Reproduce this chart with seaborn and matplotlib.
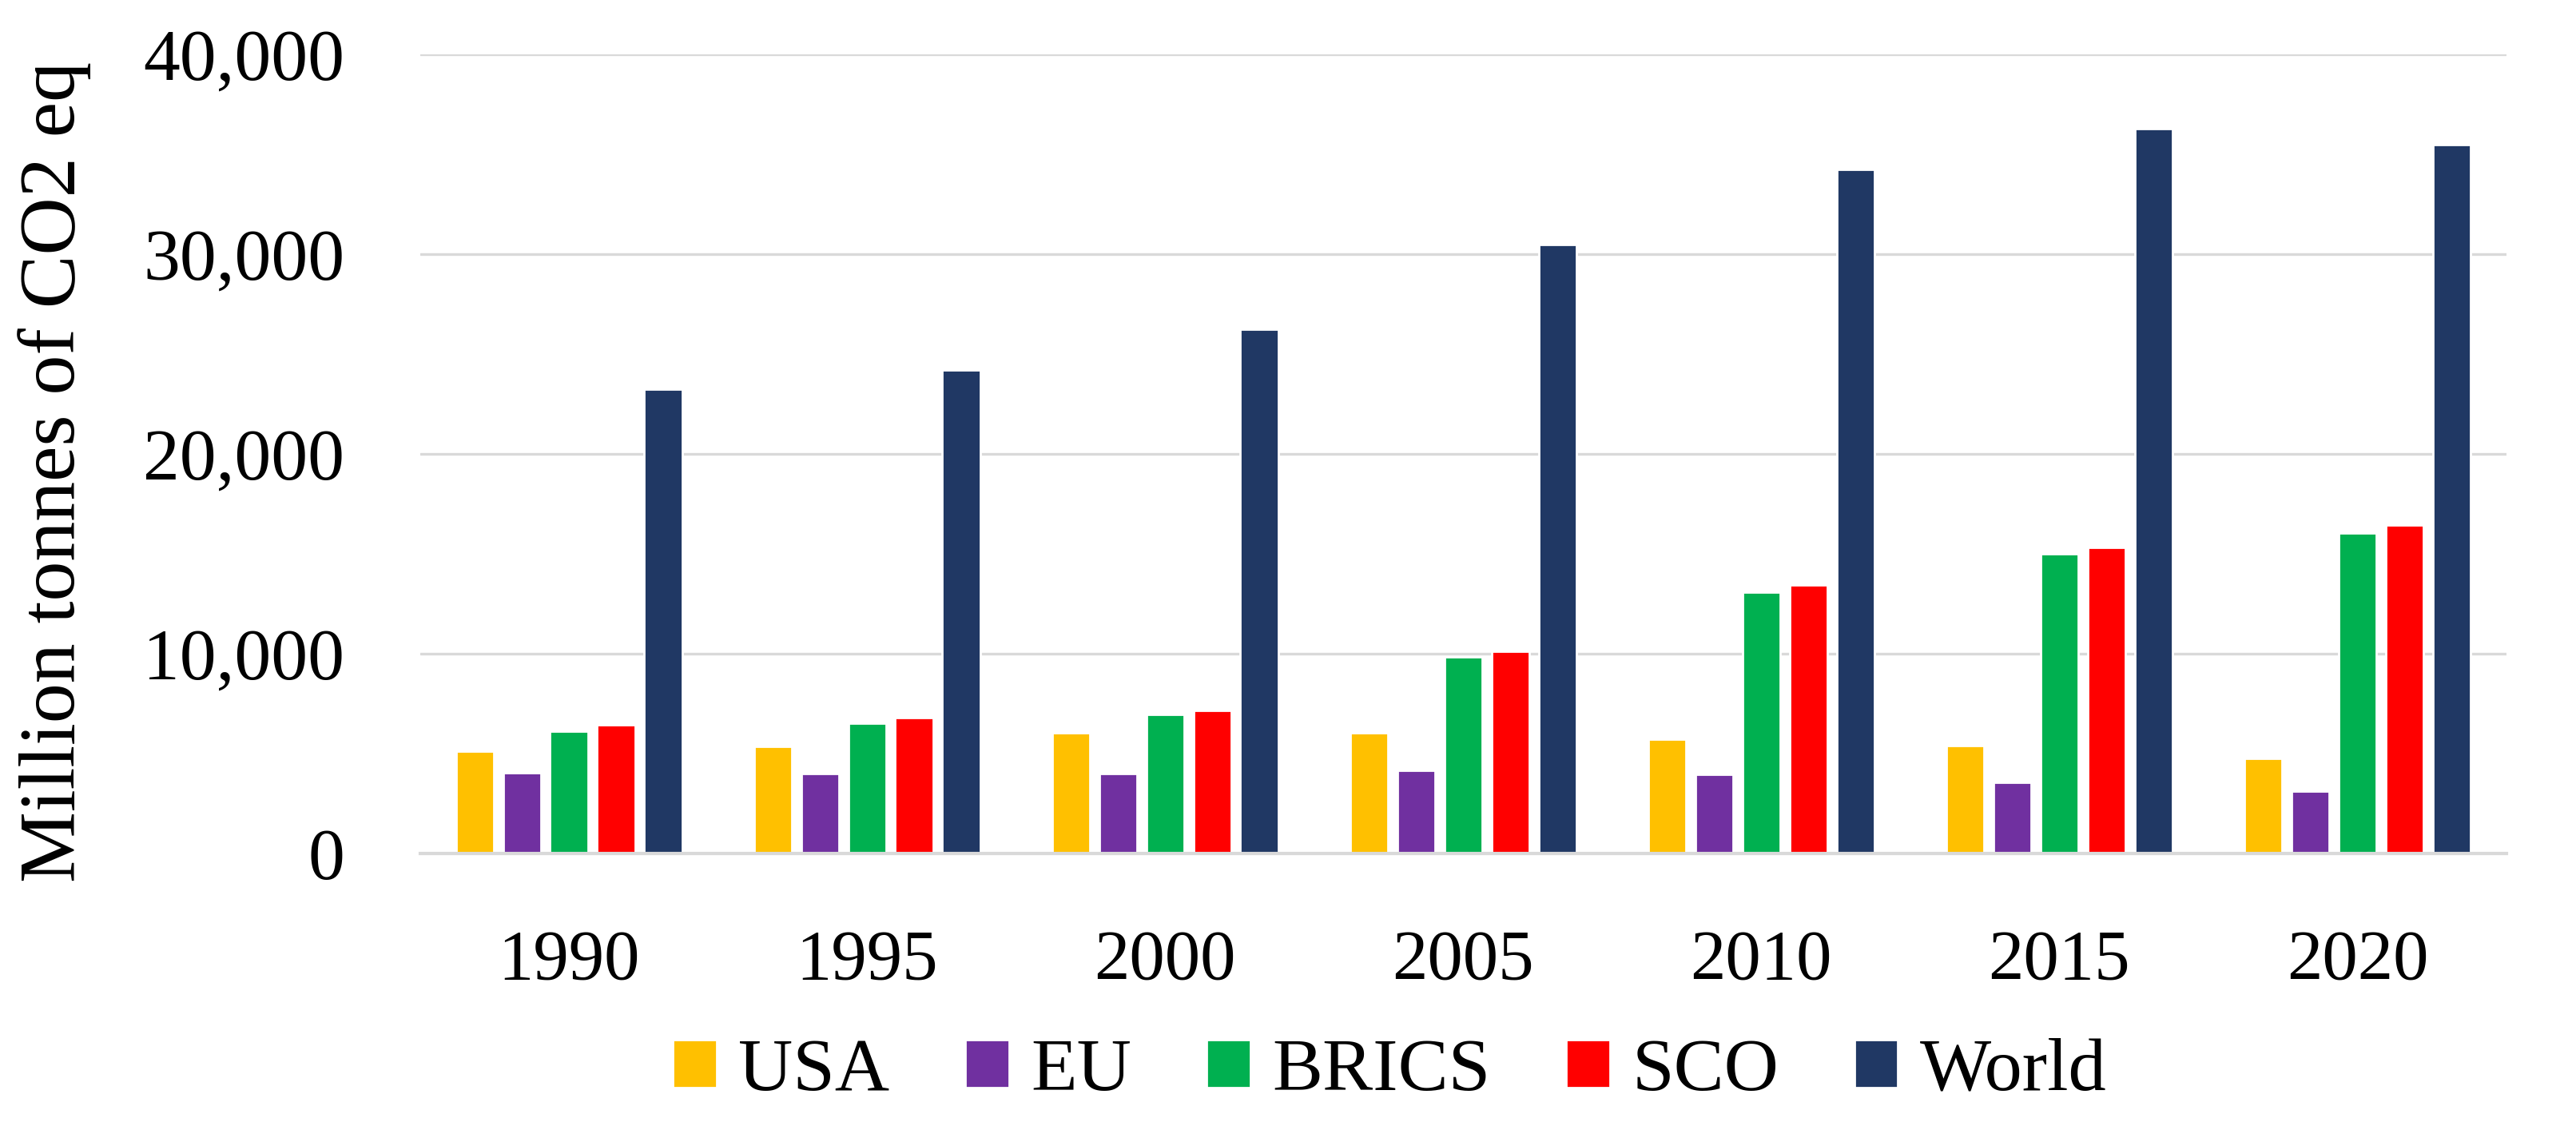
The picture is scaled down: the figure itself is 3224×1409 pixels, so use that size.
import matplotlib
matplotlib.use("Agg")
import matplotlib.pyplot as plt
import matplotlib.ticker as mticker
import seaborn as sns
import pandas as pd

# values (million tonnes CO2 eq)
years = ["1990", "1995", "2000", "2005", "2010", "2015", "2020"]
groups = ["USA", "EU", "BRICS", "SCO", "World"]
usa = [5100, 5350, 6050, 6050, 5700, 5400, 4750]
eu = [4050, 4000, 4000, 4150, 3950, 3550, 3100]
brics = [6100, 6500, 6950, 9850, 13080, 15000, 16030]
sco = [6420, 6780, 7150, 10130, 13450, 15320, 16440]
world = [23250, 24200, 26250, 30480, 34240, 36260, 35450]

colors = ["#FFC000", "#7030A0", "#00B050", "#FF0000", "#203864"]

rows = []
for name, vals in zip(groups, [usa, eu, brics, sco, world]):
    for y, v in zip(years, vals):
        rows.append({"Year": y, "Region": name, "Value": v})
df = pd.DataFrame(rows)

sns.set_theme(style="white")
plt.rcParams["font.family"] = ["Liberation Serif", "DejaVu Serif"]
plt.rcParams["text.color"] = "black"

fig = plt.figure(figsize=(16.12, 7.045), dpi=200)
ax = fig.add_axes([0.163, 0.242, 0.81, 0.71])

sns.barplot(data=df, x="Year", y="Value", hue="Region", order=years,
            hue_order=groups, palette=colors, width=0.79, gap=0.2,
            saturation=1, ax=ax, legend=True)

ax.set_ylim(0, 40000)
ax.yaxis.set_major_locator(mticker.MultipleLocator(10000))
ax.yaxis.set_major_formatter(mticker.FuncFormatter(lambda v, p: f"{int(v):,}"))
ax.grid(axis="y", color="#D9D9D9", linewidth=1.2)
ax.set_axisbelow(True)
for s in ["top", "right", "left"]:
    ax.spines[s].set_visible(False)
ax.spines["bottom"].set_color("#D9D9D9")
ax.spines["bottom"].set_linewidth(1.5)
ax.tick_params(axis="y", length=0, pad=34, labelsize=33, labelcolor="black")
ax.tick_params(axis="x", length=0, pad=34, labelsize=32, labelcolor="black")
ax.set_xlabel("")
ax.set_ylabel("")

fig.text(0.021, 0.581, "Million tonnes of CO2 eq", rotation=90, fontsize=36,
         ha="center", va="center", color="black")

handles, labels = ax.get_legend_handles_labels()
ax.get_legend().remove()
fig.legend(handles, labels, loc="center", bbox_to_anchor=(0.5395, 0.048),
           ncol=5, frameon=False, fontsize=34, handlelength=0.58,
           handleheight=0.6, handletextpad=0.29, columnspacing=1.0,
           labelcolor="black")

fig.savefig("out.png", dpi=200)
